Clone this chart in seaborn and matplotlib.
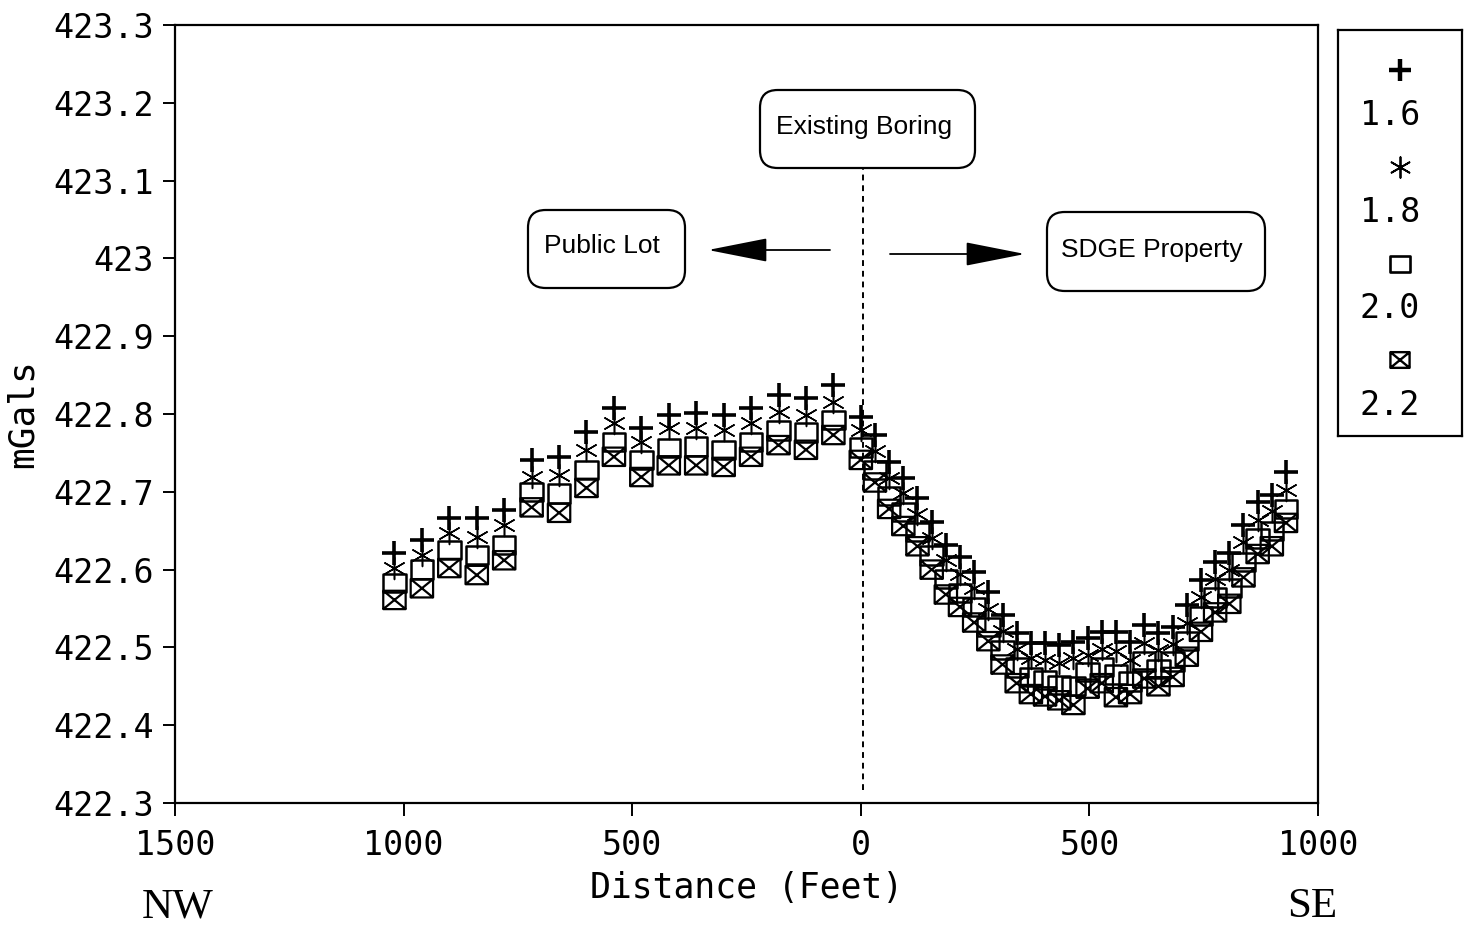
import matplotlib
matplotlib.use("Agg")
import matplotlib.pyplot as plt
import seaborn as sns
import pandas as pd
from matplotlib.path import Path
from matplotlib.patches import FancyBboxPatch

# ---------------- data ----------------
distance_nw = [-1020, -960, -900, -840, -780, -720, -660, -600, -540,
               -480, -420, -360, -300, -240, -180, -120, -60]
distance_se = [0, 31, 62, 93, 124, 155, 186, 217, 248, 279, 310, 341, 372,
               403, 434, 465, 496, 527, 558, 589, 620, 651, 682, 713, 744,
               775, 806, 837, 868, 899, 930]
distance = distance_nw + distance_se

g16 = [422.621, 422.638, 422.666, 422.666, 422.677, 422.741, 422.745, 422.777, 422.808,
       422.782, 422.799, 422.801, 422.799, 422.808, 422.824, 422.821, 422.837,
       422.796, 422.773, 422.738, 422.718, 422.692, 422.661, 422.632, 422.616, 422.597,
       422.571, 422.542, 422.519, 422.506, 422.506, 422.503, 422.507, 422.512, 422.520,
       422.520, 422.507, 422.529, 422.519, 422.526, 422.554, 422.587, 422.610, 422.621,
       422.657, 422.687, 422.696, 422.725]
g18 = [422.602, 422.619, 422.647, 422.642, 422.657, 422.719, 422.722, 422.754, 422.788,
       422.764, 422.782, 422.782, 422.779, 422.788, 422.803, 422.799, 422.815,
       422.779, 422.752, 422.718, 422.698, 422.671, 422.640, 422.612, 422.594, 422.576,
       422.550, 422.521, 422.498, 422.486, 422.484, 422.480, 422.486, 422.490, 422.498,
       422.496, 422.484, 422.506, 422.497, 422.505, 422.532, 422.565, 422.588, 422.600,
       422.635, 422.664, 422.675, 422.702]
g20 = [422.583, 422.600, 422.625, 422.619, 422.632, 422.700, 422.698, 422.728, 422.764,
       422.741, 422.756, 422.758, 422.754, 422.764, 422.779, 422.776, 422.792,
       422.757, 422.728, 422.695, 422.674, 422.648, 422.618, 422.588, 422.570, 422.552,
       422.526, 422.497, 422.474, 422.462, 422.458, 422.452, 422.450, 422.468, 422.475,
       422.465, 422.456, 422.482, 422.472, 422.482, 422.508, 422.540, 422.564, 422.576,
       422.610, 422.640, 422.650, 422.678]
g22 = [422.561, 422.576, 422.602, 422.593, 422.612, 422.680, 422.673, 422.705, 422.745,
       422.719, 422.734, 422.734, 422.732, 422.745, 422.760, 422.754, 422.773,
       422.741, 422.712, 422.678, 422.656, 422.630, 422.600, 422.568, 422.552, 422.532,
       422.508, 422.478, 422.454, 422.440, 422.437, 422.432, 422.426, 422.447, 422.454,
       422.436, 422.440, 422.460, 422.450, 422.462, 422.488, 422.520, 422.545, 422.556,
       422.590, 422.620, 422.630, 422.660]

series_labels = ["1.6", "1.8", "2.0", "2.2"]
xtick_values = [-1500, -1000, -500, 0, 500, 1000]
xtick_labels = ["1500", "1000", "500", "0", "500", "1000"]
ytick_values = [422.3, 422.4, 422.5, 422.6, 422.7, 422.8, 422.9, 423.0, 423.1, 423.2, 423.3]
ytick_labels = ["422.3", "422.4", "422.5", "422.6", "422.7", "422.8", "422.9",
                "423", "423.1", "423.2", "423.3"]

df = pd.DataFrame({"distance": distance, "1.6": g16, "1.8": g18, "2.0": g20, "2.2": g22})

# ---------------- style ----------------
sns.set_theme(style="ticks")
plt.rcParams["font.family"] = ["DejaVu Sans Mono", "DejaVu Sans"]
plt.rcParams["axes.linewidth"] = 1.6
plt.rcParams["text.color"] = "black"
plt.rcParams["axes.labelcolor"] = "black"
plt.rcParams["xtick.color"] = "black"
plt.rcParams["ytick.color"] = "black"

W, H = 1473, 925
fig = plt.figure(figsize=(W / 100, H / 100), dpi=100)
fig.patch.set_facecolor("white")


def fx(px):
    return px / W


def fy(py):
    return 1 - py / H


ax = fig.add_axes([fx(175), fy(803), (1318 - 175) / W, (803 - 25) / H])

# markers
rect_path = Path([(-1, -0.82), (1, -0.82), (1, 0.82), (-1, 0.82), (-1, -0.82)],
                 [Path.MOVETO, Path.LINETO, Path.LINETO, Path.LINETO, Path.CLOSEPOLY])
boxx_path = Path([(-1, -0.82), (1, -0.82), (1, 0.82), (-1, 0.82), (-1, -0.82),
                  (-1, -0.82), (1, 0.82), (-1, 0.82), (1, -0.82)],
                 [Path.MOVETO, Path.LINETO, Path.LINETO, Path.LINETO, Path.CLOSEPOLY,
                  Path.MOVETO, Path.LINETO, Path.MOVETO, Path.LINETO])
asterisk = (6, 2, 0)

styles = {
    "1.6": dict(marker="+", s=300, lw=2.6, line_art=True),
    "1.8": dict(marker=asterisk, s=250, lw=1.1, line_art=True),
    "2.0": dict(marker=rect_path, s=260, lw=1.8, line_art=False),
    "2.2": dict(marker=boxx_path, s=260, lw=1.6, line_art=False),
}

for lab in series_labels:
    st = styles[lab]
    if st["line_art"]:
        sns.scatterplot(data=df, x="distance", y=lab, ax=ax, marker=st["marker"], s=st["s"],
                        color="black", linewidth=st["lw"], legend=False, zorder=3)
    else:
        sns.scatterplot(data=df, x="distance", y=lab, ax=ax, marker=st["marker"], s=st["s"],
                        facecolors="none", edgecolor="black",
                        linewidth=st["lw"], legend=False, zorder=3)

ax.set_xlim(-1500, 1000)
ax.set_ylim(422.3, 423.3)
ax.set_xticks(xtick_values)
ax.set_xticklabels(xtick_labels)
ax.set_yticks(ytick_values)
ax.set_yticklabels(ytick_labels)
ax.tick_params(axis="both", direction="out", length=9, width=1.4, labelsize=24,
               colors="black", pad=10)
ax.tick_params(axis="y", pad=6)
ax.set_xlabel("Distance (Feet)", fontsize=25, labelpad=6)
ax.set_ylabel("mGals", fontsize=26, labelpad=10)
for sp in ax.spines.values():
    sp.set_visible(True)
    sp.set_color("black")
    sp.set_linewidth(1.6)

# vertical dashed line at the existing boring
ax.axvline(5, ymin=0.017, ymax=(803 - 168) / 778, color="black", lw=1.4,
           ls=(0, (3, 2.5)), zorder=2)

# annotation boxes
ann_font = dict(family=["Liberation Sans", "DejaVu Sans"], fontsize=19, color="black")


def rbox(x0, y0, x1, y1):
    p = FancyBboxPatch((fx(x0), fy(y1)), fx(x1) - fx(x0), fy(y0) - fy(y1),
                       boxstyle="round,pad=0,rounding_size=0.012",
                       transform=fig.transFigure, fc="white", ec="black", lw=1.6,
                       zorder=5, mutation_aspect=W / H)
    fig.patches.append(p)


rbox(760, 90, 975, 168)
fig.text(fx(864), fy(127), "Existing Boring", ha="center", va="center", zorder=6, **ann_font)
rbox(528, 210, 685, 288)
fig.text(fx(602), fy(246), "Public Lot", ha="center", va="center", zorder=6, **ann_font)
rbox(1047, 212, 1265, 291)
fig.text(fx(1152), fy(250), "SDGE Property", ha="center", va="center", zorder=6, **ann_font)

# arrows
arrow_kw = dict(arrowstyle="-|>,head_length=3.8,head_width=0.75", color="black",
                lw=1.3, mutation_scale=10, shrinkA=0, shrinkB=0)
ax.annotate("", xy=(708, H - 250), xycoords="figure pixels",
            xytext=(830, H - 250), textcoords="figure pixels", arrowprops=arrow_kw)
ax.annotate("", xy=(1025, H - 254), xycoords="figure pixels",
            xytext=(890, H - 254), textcoords="figure pixels", arrowprops=arrow_kw)

# NW / SE
serif = dict(family=["Liberation Serif", "DejaVu Serif"], fontsize=31, color="black")
fig.text(fx(178), fy(907), "NW", ha="center", va="center", **serif)
fig.text(fx(1312), fy(907), "SE", ha="center", va="center", **serif)

# legend panel
lax = fig.add_axes([fx(1338), fy(436), (1462 - 1338) / W, (436 - 30) / H])
lax.set_xlim(0, 1)
lax.set_ylim(0, 1)
lax.set_xticks([])
lax.set_yticks([])
for sp in lax.spines.values():
    sp.set_linewidth(1.6)
    sp.set_color("black")


def ly(py):
    return (436 - py) / (436 - 30)


lx_marker = (1400 - 1338) / 124
lx_text = (1390 - 1338) / 124
marker_rows = [70, 167, 264, 360]
text_rows = [115, 212, 308, 405]
legend_sizes = {"1.6": 240, "1.8": 220, "2.0": 200, "2.2": 190}
legend_lw = {"1.6": 3.2, "1.8": 1.3, "2.0": 1.9, "2.2": 1.7}
for lab, mr, tr in zip(series_labels, marker_rows, text_rows):
    st = styles[lab]
    if st["line_art"]:
        lax.scatter([lx_marker], [ly(mr)], marker=st["marker"], s=legend_sizes[lab],
                    color="black", linewidths=legend_lw[lab])
    else:
        lax.scatter([lx_marker], [ly(mr)], marker=st["marker"], s=legend_sizes[lab],
                    facecolors="none", edgecolors="black", linewidths=legend_lw[lab])
    lax.text(lx_text, ly(tr), lab, ha="center", va="center", fontsize=24, color="black")

fig.savefig("out.png", dpi=100, facecolor="white")
